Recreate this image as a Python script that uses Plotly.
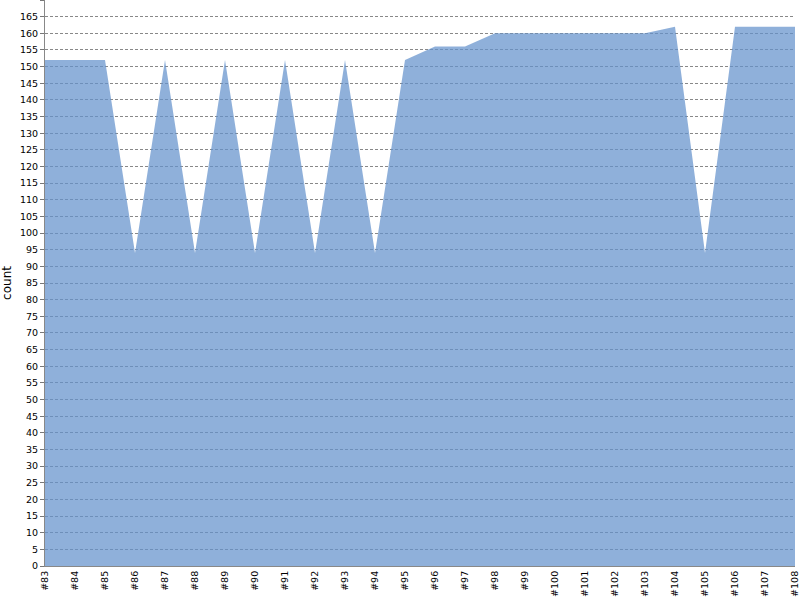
import plotly.graph_objects as go

# build ids #83 .. #108
builds = [f"#{n}" for n in range(83, 109)]
counts = [152, 152, 152, 94, 152, 94, 152, 94, 152, 94, 152, 94,
          152, 156, 156, 160, 160, 160, 160, 160, 160, 162, 94, 162, 162, 162]

fig = go.Figure()
fig.add_trace(go.Scatter(
    x=builds, y=counts,
    mode='lines', fill='tozeroy',
    line=dict(width=0, color='rgba(100,145,204,0.72)'),
    fillcolor='rgba(100,145,204,0.72)',
    hoverinfo='x+y',
))

fig.update_layout(
    width=800, height=600,
    margin=dict(l=45, r=5, t=0, b=34),
    plot_bgcolor='white', paper_bgcolor='white',
    font=dict(family='DejaVu Sans', size=11, color='black'),
    showlegend=False,
)
fig.update_xaxes(
    type='category', range=[0, len(builds) - 1],
    tickangle=-90, showgrid=False, automargin=False,
    showline=True, linecolor='#888888', linewidth=1,
    ticks='', tickfont=dict(size=9.5),
)
fig.update_yaxes(
    range=[0, 170], dtick=5, automargin=False,
    title=dict(text='count', standoff=6, font=dict(size=12)),
    showgrid=True, gridcolor='#888888', gridwidth=1, griddash='3px,2px',
    showline=True, linecolor='#888888', linewidth=1,
    ticks='outside', ticklen=4, tickcolor='#777777',
    tickfont=dict(size=9.5), zeroline=False,
)

# drop the default page margin so the figure sits at the window corner
fig.write_html("out.html", config={'displayModeBar': False},
               post_script="document.body.style.margin='0';")
